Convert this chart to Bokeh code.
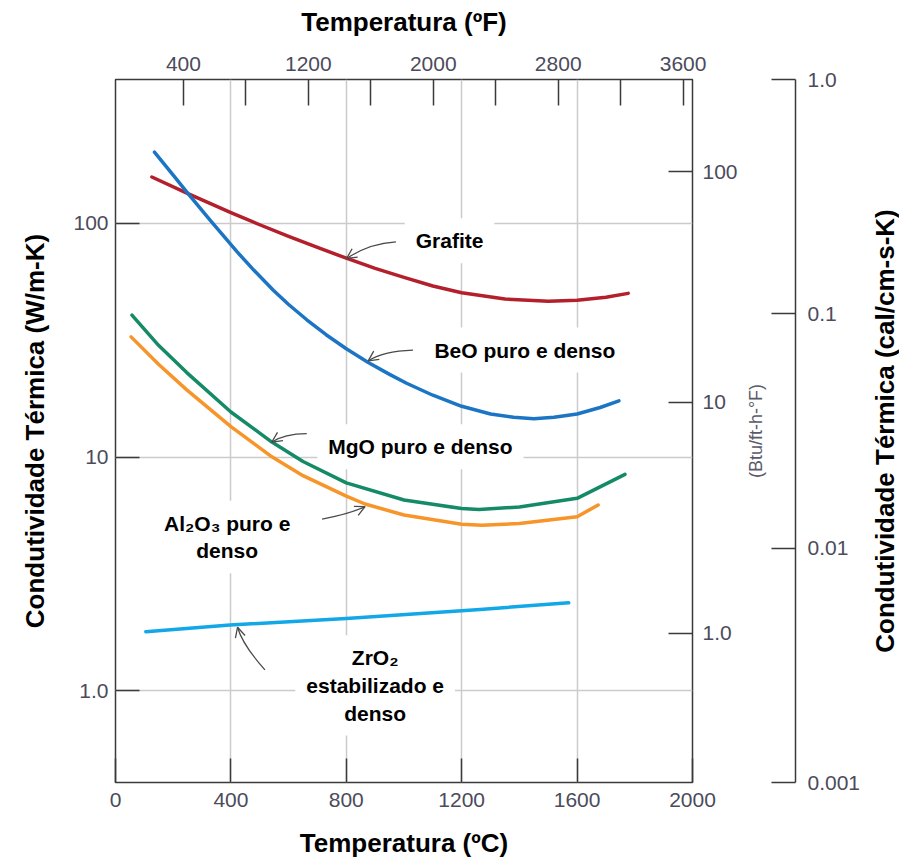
from bokeh.plotting import figure
from bokeh.layouts import row
from bokeh.models import (Range1d, LogAxis, LinearAxis, FixedTicker, LogScale, Label,
                          Arrow, OpenHead, ColumnDataSource, CustomJSTickFormatter)
from bokeh.embed import file_html
from bokeh.resources import INLINE

# ---------------- data ----------------
temp_c_ticks = [0, 400, 800, 1200, 1600, 2000]
temp_f_ticks = [400, 800, 1200, 1600, 2000, 2400, 2800, 3200, 3600]
wmk_ticks = [1, 10, 100]
btu_ticks = [1, 10, 100]
cal_ticks = [0.001, 0.01, 0.1, 1.0]
grid_c = [400, 800, 1200, 1600]

grafite_T = [126, 253, 400, 500, 600, 700, 800, 900, 1000, 1100, 1200, 1350, 1500, 1600, 1700, 1777]
grafite_k = [158, 133.8, 111.2, 98.7, 88.1, 78.9, 71.0, 64.2, 58.8, 54.0, 50.5, 47.5, 46.5, 46.9, 48.3, 50.2]

beo_T = [135, 200, 253, 330, 421, 480, 547, 600, 663, 730, 800, 876, 950, 1009, 1100, 1200,
         1300, 1380, 1450, 1520, 1600, 1680, 1745]
beo_k = [202, 160.9, 133.6, 102.6, 75.7, 63.0, 51.8, 45.0, 38.7, 33.4, 29.1, 25.4, 22.6, 20.7,
         18.4, 16.5, 15.3, 14.8, 14.6, 14.8, 15.3, 16.3, 17.4]

mgo_T = [57, 150, 247, 400, 542, 650, 800, 1000, 1200, 1260, 1400, 1600, 1766]
mgo_k = [40.5, 30.0, 23.0, 15.6, 11.6, 9.58, 7.76, 6.55, 6.02, 5.96, 6.12, 6.66, 8.44]

al2o3_T = [54, 150, 247, 400, 542, 650, 800, 865, 1000, 1200, 1270, 1400, 1600, 1673]
al2o3_k = [32.7, 24.9, 19.4, 13.5, 10.03, 8.33, 6.81, 6.3, 5.65, 5.16, 5.11, 5.2, 5.56, 6.24]

zro2_T = [105, 397, 800, 1264, 1571]
zro2_k = [1.79, 1.91, 2.04, 2.23, 2.38]

series_colors = ["#b3202c", "#1c75c4", "#158a66", "#f7952a", "#12a8e8"]

# curve annotations (°C, W/m-K)
ann_text = ["Grafite", "BeO puro e denso", "MgO puro e denso",
            "Al\u2082O\u2083 puro e\ndenso", "ZrO\u2082\nestabilizado e\ndenso"]
ann_T = [1158, 1419, 1057, 387, 900]
ann_k = [84.3, 28.7, 11.08, 4.55, 1.054]

# arrows: tail, control, tip (°C, W/m-K)
arr_T0 = [972, 1031, 663, 716, 518]
arr_k0 = [83.4, 28.7, 12.6, 5.43, 1.228]
arr_Tc = [878, 926, 585, 813, 440]
arr_kc = [82.0, 28.4, 12.57, 5.72, 1.575]
arr_T1 = [801, 876, 542, 865, 423]
arr_k1 = [70.8, 25.8, 11.6, 6.14, 1.87]

title_top = "Temperatura (ºF)"
title_bottom = "Temperatura (ºC)"
title_left = "Condutividade Térmica (W/m-K)"
title_right = "Condutividade Térmica (cal/cm-s-K)"
title_btu = "(Btu/ft-h-°F)"

# ---------------- styling ----------------
FONT = "Liberation Sans"
TICK_COLOR = "#4b4b5b"
LINE_COLOR = "#3a3a3a"
TOP, BOTTOM, FH = 79, 78, 703


def style_axis(ax, tick_in, standoff, line=False):
    ax.major_tick_in = tick_in
    ax.major_tick_out = 0
    ax.minor_tick_in = 0
    ax.minor_tick_out = 0
    ax.minor_tick_line_color = None
    ax.major_tick_line_color = LINE_COLOR
    ax.major_tick_line_width = 1.5
    if line:
        ax.axis_line_color = LINE_COLOR
        ax.axis_line_width = 1.5
    else:
        ax.axis_line_color = None
    ax.major_label_text_font = FONT
    ax.major_label_text_font_size = "21px"
    ax.major_label_text_color = TICK_COLOR
    ax.major_label_standoff = standoff
    ax.axis_label_text_font = FONT
    ax.axis_label_text_font_style = "bold"
    ax.axis_label_text_font_size = "26px"
    ax.axis_label_text_color = "black"


def label_only_axis(ax, text, standoff, size, bold, color):
    ax.ticker = FixedTicker(ticks=[])
    ax.major_tick_in = 0
    ax.major_tick_out = 0
    ax.minor_tick_in = 0
    ax.minor_tick_out = 0
    ax.major_tick_line_color = None
    ax.minor_tick_line_color = None
    ax.axis_line_color = None
    ax.major_label_standoff = 0
    ax.axis_label = text
    ax.axis_label_standoff = standoff
    ax.axis_label_text_font = FONT
    ax.axis_label_text_font_style = "bold" if bold else "normal"
    ax.axis_label_text_font_size = size
    ax.axis_label_text_color = color


def blank_fig(fw, left, right, y_range, log=False):
    f = figure(frame_width=fw, frame_height=FH, x_range=Range1d(0, 1), y_range=y_range,
               y_axis_type="log" if log else "linear",
               x_axis_location=None, y_axis_location=None, title=None,
               output_backend="svg", toolbar_location=None,
               min_border_left=left, min_border_right=right,
               min_border_top=TOP, min_border_bottom=BOTTOM,
               background_fill_color="white", border_fill_color="white")
    f.outline_line_color = None
    f.grid.visible = False
    return f


# ---------------- main figure ----------------
p = figure(frame_width=577, frame_height=FH,
           x_range=Range1d(0, 2000), y_range=Range1d(0.405, 413),
           y_axis_type="log", title=None,
           output_backend="svg", toolbar_location=None,
           min_border_left=115, min_border_right=50,
           min_border_top=TOP, min_border_bottom=BOTTOM,
           background_fill_color="white", border_fill_color="white")
p.outline_line_color = LINE_COLOR
p.outline_line_width = 1.5

p.extra_x_ranges = {"F": Range1d(-35, 3660)}
p.extra_y_ranges = {"btu": Range1d(0.2254, 251)}
p.extra_y_scales = {"btu": LogScale()}

# bottom axis (°C)
bx = p.xaxis[0]
bx.ticker = FixedTicker(ticks=temp_c_ticks)
style_axis(bx, 24, 10)
bx.axis_label = title_bottom
bx.axis_label_standoff = 18

# left axis (W/m-K)
ly = p.yaxis[0]
ly.ticker = FixedTicker(ticks=wmk_ticks)
ly.formatter = CustomJSTickFormatter(code="return tick == 1 ? '1.0' : tick.toFixed(0);")
style_axis(ly, 24, 7)
ly.axis_label = title_left
ly.axis_label_standoff = 20

# top axis (°F)
tx = LinearAxis(x_range_name="F", ticker=FixedTicker(ticks=temp_f_ticks))
tx.formatter = CustomJSTickFormatter(code="return (tick % 800 == 400) ? tick.toFixed(0) : '';")
style_axis(tx, 26, 9)
tx.axis_label = title_top
tx.axis_label_standoff = 17
p.add_layout(tx, "above")

# right axis (Btu/ft-h-°F) ticks and labels
ry = LogAxis(y_range_name="btu", ticker=FixedTicker(ticks=btu_ticks))
ry.formatter = CustomJSTickFormatter(code="return tick == 1 ? '1.0' : tick.toFixed(0);")
style_axis(ry, 24, 10)
p.add_layout(ry, "right")

# grids
p.xgrid[0].ticker = FixedTicker(ticks=grid_c)
p.ygrid[0].ticker = FixedTicker(ticks=wmk_ticks)
for g in (p.xgrid[0], p.ygrid[0]):
    g.grid_line_color = "#cbcbcb"
    g.grid_line_width = 1.5
    g.minor_grid_line_color = None

# annotation text boxes (white background hides the grid, curves drawn over them)
for txt, t, k in zip(ann_text, ann_T, ann_k):
    p.add_layout(Label(x=t, y=k, text=txt, text_align="center", text_baseline="middle",
                       text_font=FONT, text_font_style="bold",
                       text_font_size="21px", text_color="black",
                       background_fill_color="white", padding=11, level="underlay"))

# curves
curves = [(grafite_T, grafite_k), (beo_T, beo_k), (mgo_T, mgo_k),
          (al2o3_T, al2o3_k), (zro2_T, zro2_k)]
for (T, k), c in zip(curves, series_colors):
    p.line(T, k, line_color=c, line_width=3.5, line_cap="round", line_join="round")

# arrows
p.quadratic(x0=arr_T0, y0=arr_k0, x1=arr_T1, y1=arr_k1, cx=arr_Tc, cy=arr_kc,
            line_color="#4a4a4a", line_width=1.3)
asrc = ColumnDataSource(dict(xs=arr_Tc, ys=arr_kc, xe=arr_T1, ye=arr_k1))
p.add_layout(Arrow(end=OpenHead(size=10, line_color="#4a4a4a", line_width=1.3),
                   x_start="xs", y_start="ys", x_end="xe", y_end="ye",
                   source=asrc, line_color=None))

# ---------------- second figure: Btu title + cal/cm-s-K scale ----------------
f2 = blank_fig(1, 50, 69, Range1d(0.001, 1.0), log=True)
lab_ax = LinearAxis()
label_only_axis(lab_ax, title_btu, 29, "18px", False, "#5a5a6a")
f2.add_layout(lab_ax, "left")
cy = LogAxis(ticker=FixedTicker(ticks=cal_ticks))
cy.formatter = CustomJSTickFormatter(code="return tick == 1 ? '1.0' : String(tick);")
style_axis(cy, 24, 12, line=True)
f2.add_layout(cy, "right")

# ---------------- third figure: cal/cm-s-K title ----------------
f3 = blank_fig(1, 35, 0, Range1d(0, 1))
t_ax = LinearAxis()
label_only_axis(t_ax, title_right, 0, "26px", True, "black")
f3.add_layout(t_ax, "left")

layout = row(p, f2, f3, spacing=0)
open("out.html", "w").write(file_html(layout, INLINE))
